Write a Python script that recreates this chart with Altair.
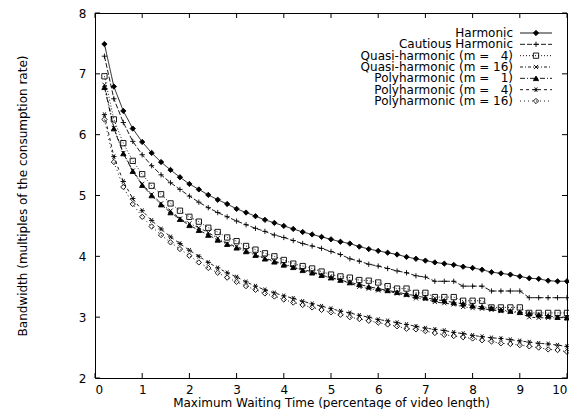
import altair as alt
import pandas as pd

# ---------------- data ----------------
wait = [0.2, 0.4, 0.6, 0.8, 1.0, 1.2, 1.4, 1.6, 1.8, 2.0,
        2.2, 2.4, 2.6, 2.8, 3.0, 3.2, 3.4, 3.6, 3.8, 4.0,
        4.2, 4.4, 4.6, 4.8, 5.0, 5.2, 5.4, 5.6, 5.8, 6.0,
        6.2, 6.4, 6.6, 6.8, 7.0, 7.2, 7.4, 7.6, 7.8, 8.0,
        8.2, 8.4, 8.6, 8.8, 9.0, 9.2, 9.4, 9.6, 9.8, 10.0]

harmonic = [7.49, 6.79, 6.39, 6.10, 5.88, 5.70, 5.55, 5.42, 5.30, 5.19,
            5.10, 5.01, 4.93, 4.86, 4.78, 4.72, 4.66, 4.60, 4.55, 4.50,
            4.45, 4.40, 4.36, 4.32, 4.28, 4.24, 4.21, 4.16, 4.12, 4.09,
            4.06, 4.03, 3.99, 3.96, 3.93, 3.90, 3.88, 3.86, 3.83, 3.81,
            3.78, 3.74, 3.72, 3.70, 3.67, 3.64, 3.63, 3.60, 3.59, 3.59]

cautious = [7.29, 6.59, 6.20, 5.89, 5.67, 5.49, 5.34, 5.21, 5.10, 4.99,
            4.89, 4.80, 4.72, 4.65, 4.58, 4.52, 4.46, 4.41, 4.35, 4.31,
            4.26, 4.21, 4.17, 4.13, 4.08, 4.03, 3.96, 3.92, 3.87, 3.84,
            3.80, 3.76, 3.73, 3.68, 3.66, 3.59, 3.59, 3.59, 3.51, 3.51,
            3.51, 3.43, 3.43, 3.43, 3.43, 3.32, 3.32, 3.32, 3.32, 3.32]

quasi4 = [6.96, 6.25, 5.86, 5.57, 5.35, 5.16, 5.02, 4.87, 4.75, 4.65,
          4.57, 4.47, 4.40, 4.31, 4.25, 4.17, 4.11, 4.05, 4.00, 3.94,
          3.88, 3.84, 3.80, 3.75, 3.70, 3.67, 3.65, 3.61, 3.60, 3.57,
          3.51, 3.47, 3.47, 3.40, 3.40, 3.33, 3.33, 3.33, 3.27, 3.27,
          3.27, 3.16, 3.16, 3.16, 3.16, 3.07, 3.07, 3.07, 3.07, 3.07]

quasi16 = [6.82, 6.11, 5.70, 5.41, 5.19, 5.02, 4.87, 4.75, 4.62, 4.54,
           4.47, 4.39, 4.30, 4.21, 4.16, 4.10, 4.03, 3.97, 3.92, 3.88,
           3.82, 3.78, 3.75, 3.69, 3.64, 3.61, 3.56, 3.50, 3.47, 3.44,
           3.43, 3.39, 3.36, 3.31, 3.30, 3.25, 3.23, 3.21, 3.17, 3.15,
           3.14, 3.12, 3.10, 3.09, 3.07, 3.00, 2.99, 2.99, 2.99, 2.99]

poly1 = [6.78, 6.10, 5.69, 5.40, 5.17, 5.00, 4.85, 4.72, 4.61, 4.51,
         4.43, 4.35, 4.27, 4.20, 4.14, 4.08, 4.02, 3.96, 3.91, 3.86,
         3.82, 3.77, 3.73, 3.69, 3.65, 3.61, 3.57, 3.54, 3.50, 3.47,
         3.44, 3.41, 3.38, 3.35, 3.32, 3.29, 3.27, 3.24, 3.22, 3.19,
         3.17, 3.15, 3.12, 3.10, 3.08, 3.06, 3.04, 3.02, 3.00, 2.99]

poly4 = [6.33, 5.64, 5.23, 4.95, 4.75, 4.59, 4.45, 4.32, 4.21, 4.10,
         4.00, 3.90, 3.81, 3.73, 3.66, 3.58, 3.51, 3.45, 3.40, 3.35,
         3.31, 3.26, 3.22, 3.18, 3.14, 3.10, 3.07, 3.03, 3.00, 2.96,
         2.94, 2.91, 2.88, 2.85, 2.82, 2.80, 2.78, 2.75, 2.73, 2.70,
         2.68, 2.66, 2.65, 2.63, 2.61, 2.59, 2.57, 2.56, 2.54, 2.52]

poly16 = [6.25, 5.55, 5.14, 4.86, 4.65, 4.49, 4.35, 4.23, 4.12, 4.01,
          3.90, 3.81, 3.73, 3.65, 3.58, 3.51, 3.45, 3.39, 3.34, 3.29,
          3.24, 3.20, 3.16, 3.12, 3.08, 3.04, 3.00, 2.97, 2.94, 2.91,
          2.88, 2.85, 2.81, 2.80, 2.77, 2.74, 2.71, 2.69, 2.67, 2.65,
          2.62, 2.60, 2.57, 2.56, 2.54, 2.52, 2.50, 2.47, 2.46, 2.43]

NB = "\u00a0"
names = ["Harmonic",
         "Cautious Harmonic",
         "Quasi-harmonic (m = " + NB + NB + "4)",
         "Quasi-harmonic (m = 16)",
         "Polyharmonic (m = " + NB + NB + "1)",
         "Polyharmonic (m = " + NB + NB + "4)",
         "Polyharmonic (m = 16)"]
series_values = [harmonic, cautious, quasi4, quasi16, poly1, poly4, poly16]

x_ticks = [0, 1, 2, 3, 4, 5, 6, 7, 8, 9, 10]
y_ticks = [2, 3, 4, 5, 6, 7, 8]

# ---------------- styles ----------------
dashes = [[1, 0], [5, 2], [1, 2], [3, 2, 1, 2], [5, 2, 1, 2], [3, 3], [1, 3]]
shapes = ["diamond",
          "M-1,0L1,0M0,-1L0,1",
          "square",
          "M-0.8,-0.8L0.8,0.8M-0.8,0.8L0.8,-0.8",
          "triangle-up",
          "M-1,0L1,0M-0.5,-0.87L0.5,0.87M-0.5,0.87L0.5,-0.87",
          "diamond"]
fills = ["black", "transparent", "transparent", "transparent", "black", "transparent", "transparent"]

rows = []
for name, vals in zip(names, series_values):
    for w, b in zip(wait, vals):
        rows.append({"series": name, "wait": w, "bw": b})
df = pd.DataFrame(rows)
legend_df = pd.DataFrame({"series": names})

W, H = 472, 365
FONT = "DejaVu Sans"
FS = 12

xs = alt.Scale(domain=[0, 10], nice=False, zero=False)
ys = alt.Scale(domain=[2, 8], nice=False, zero=False)
dash_scale = alt.Scale(domain=names, range=dashes)
shape_scale = alt.Scale(domain=names, range=shapes)
fill_scale = alt.Scale(domain=names, range=fills)

x_axis = alt.Axis(values=x_ticks, ticks=False, domain=False, grid=False,
                  labelFontSize=FS, labelFont=FONT, labelColor="black", labelPadding=6,
                  title="Maximum Waiting Time (percentage of video length)",
                  titleFont=FONT, titleFontSize=FS, titleFontWeight="normal", titleColor="black",
                  titleX=W / 2, titleY=24, titleBaseline="middle", titleAlign="center")
y_axis = alt.Axis(values=y_ticks, ticks=False, domain=False, grid=False,
                  labelFontSize=FS, labelFont=FONT, labelColor="black", labelPadding=9,
                  title="Bandwidth (multiples of the consumption rate)",
                  titleFont=FONT, titleFontSize=FS, titleFontWeight="normal", titleColor="black",
                  titleX=-73, titleY=H / 2, titleAngle=270, titleBaseline="middle", titleAlign="center")

lines = alt.Chart(df).mark_line(color="black", strokeWidth=0.9).encode(
    x=alt.X("wait:Q", scale=xs, axis=x_axis),
    y=alt.Y("bw:Q", scale=ys, axis=y_axis),
    detail="series:N",
    strokeDash=alt.StrokeDash("series:N", scale=dash_scale, legend=None),
    order="wait:Q",
)

points = alt.Chart(df).mark_point(filled=True, stroke="black", strokeWidth=0.9, opacity=1, size=28).encode(
    x=alt.X("wait:Q", scale=xs),
    y=alt.Y("bw:Q", scale=ys, axis=None),
    shape=alt.Shape("series:N", scale=shape_scale, legend=None),
    fill=alt.Fill("series:N", scale=fill_scale, legend=None),
)

xt = pd.DataFrame({"wait": x_ticks})
yt = pd.DataFrame({"t": y_ticks})
tick_bottom = alt.Chart(xt).mark_rule(color="black", strokeWidth=1).encode(
    x=alt.X("wait:Q", scale=xs), y=alt.value(H), y2=alt.value(H - 5))
tick_top = alt.Chart(xt).mark_rule(color="black", strokeWidth=1).encode(
    x=alt.X("wait:Q", scale=xs), y=alt.value(0), y2=alt.value(5))
tick_left = alt.Chart(yt).mark_rule(color="black", strokeWidth=1).encode(
    y=alt.Y("t:Q", scale=ys, axis=None), x=alt.value(0), x2=alt.value(5))
tick_right = alt.Chart(yt).mark_rule(color="black", strokeWidth=1).encode(
    y=alt.Y("t:Q", scale=ys, axis=None), x=alt.value(W), x2=alt.value(W - 5))

leg_y = alt.Scale(type="point", domain=names, range=[20, 88], padding=0)
leg_text = alt.Chart(legend_df).mark_text(align="right", baseline="middle", font=FONT,
                                          fontSize=FS, color="black").encode(
    x=alt.value(418), y=alt.Y("series:N", scale=leg_y, axis=None), text="series:N")
leg_line = alt.Chart(legend_df).mark_rule(color="black", strokeWidth=0.9).encode(
    x=alt.value(425), x2=alt.value(457), y=alt.Y("series:N", scale=leg_y, axis=None),
    strokeDash=alt.StrokeDash("series:N", scale=dash_scale, legend=None))
leg_pt = alt.Chart(legend_df).mark_point(filled=True, stroke="black", strokeWidth=0.9, opacity=1, size=28).encode(
    x=alt.value(441), y=alt.Y("series:N", scale=leg_y, axis=None),
    shape=alt.Shape("series:N", scale=shape_scale, legend=None),
    fill=alt.Fill("series:N", scale=fill_scale, legend=None))

chart = alt.layer(
    lines, points, tick_bottom, tick_top, tick_left, tick_right, leg_line, leg_pt, leg_text
).resolve_scale(y="independent").properties(
    width=W, height=H,
    autosize=alt.AutoSizeParams(type="none"),
    padding={"left": 87, "top": 5, "right": 2, "bottom": 31},
    background="white",
).configure_view(stroke="black", strokeWidth=1)

chart.save("out.html", embed_options={"renderer": "svg", "actions": False})
